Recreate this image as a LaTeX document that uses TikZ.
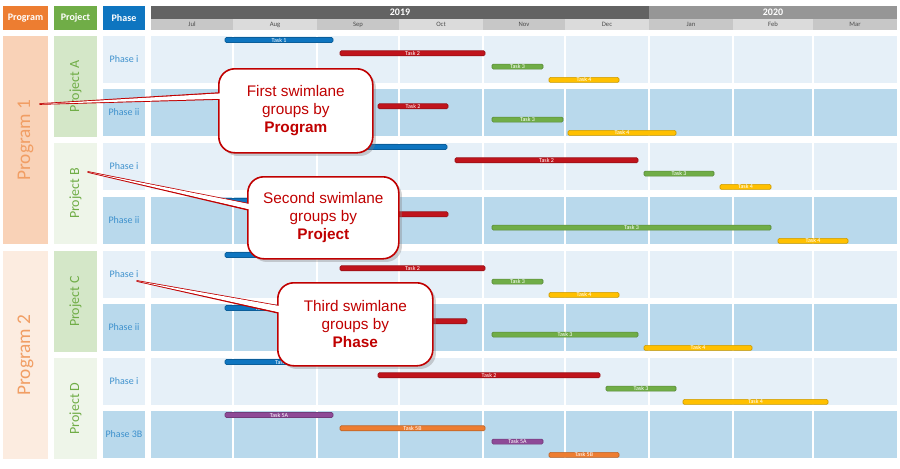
\documentclass[tikz,border=0pt]{standalone}
\usepackage{fontspec}
\setmainfont{Carlito}
\newfontfamily\arialf{Liberation Sans}
\usetikzlibrary{shadows}
\definecolor{cOr}{HTML}{ED7D31}
\definecolor{cGr}{HTML}{70AD47}
\definecolor{cBl}{HTML}{0E75C0}
\definecolor{cRd}{HTML}{C0141C}
\definecolor{cYe}{HTML}{FFC000}
\definecolor{cPu}{HTML}{8E4A97}
\definecolor{cLite}{HTML}{E6F0F8}
\definecolor{cDark}{HTML}{B9D9EC}
\definecolor{cCall}{HTML}{C00000}
\tikzset{
 hdr/.style={font=\bfseries\fontsize{7.5}{8}\selectfont, text=white},
 tbar/.style={rounded corners=1pt, draw=#1!80!black, fill=#1, line width=0.5pt},
 tlab/.style={font=\fontsize{4.5}{5}\selectfont, text=white},
 mon/.style={font=\fontsize{5}{6}\selectfont, text=black!70},
 callout/.style={draw=cCall, line width=1.2pt, fill=white, rounded corners=12pt, align=center,
   font=\arialf\fontsize{11.5}{13.5}\selectfont, text=cCall, drop shadow={opacity=0.35}},
}
\newcommand\tsk[6]{% x1 x2 row-top slot color label
  \draw[tbar=#5] (#1,#3+1.5+13.3*#4) rectangle (#2,#3+6.5+13.3*#4);
  \node[tlab] at ({(#1+#2)/2},#3+4+13.3*#4) {#6};}
\begin{document}
\begin{tikzpicture}[x=0.75pt,y=-0.75pt]
\useasboundingbox (0,0) rectangle (900,468);
% header
\fill[cOr] (3,6) rectangle (48,30); \node[hdr] (hprog) at (25.5,18) {Program};
\fill[cGr] (54,6) rectangle (97,30); \node[hdr] (hproj) at (75.5,18) {Project};
\fill[cBl] (103,6) rectangle (145,30); \node[hdr] (hphase) at (124,18) {Phase};
\fill[black!61] (151,6) rectangle (649,19); \node[hdr] (y19) at (400,12.5) {2019};
\fill[black!41] (649,6) rectangle (897,19); \node[hdr] (y20) at (773,12.5) {2020};
\foreach \a/\b/\m [count=\i] in {151/233/Jul,233/317/Aug,317/399/Sep,399/483/Oct,483/565/Nov,565/649/Dec,649/733/Jan,733/813/Feb,813/897/Mar}{
  \pgfmathsetmacro\sh{mod(\i,2)==1 ? 22 : 14}
  \fill[black!\sh] (\a,19) rectangle (\b,30);
  \node[mon] at ({(\a+\b)/2},24.5) {\m};}
% program / project columns
\fill[cOr!35] (3,36) rectangle (48,244);
\fill[cOr!15] (3,251) rectangle (48,459);
\node[rotate=90,text=cOr!75,font=\fontsize{14.5}{15}\selectfont] (p1) at (25.5,140) {Program 1};
\node[rotate=90,text=cOr!75,font=\fontsize{14.5}{15}\selectfont] (p2) at (25.5,355) {Program 2};
\foreach \t/\b/\lab/\sh in {36/137/A/30,143/244/B/12,251/352/C/30,358/459/D/12}{
  \fill[cGr!\sh] (54,\t) rectangle (97,\b);
  \node[rotate=90,text=cGr,font=\fontsize{10.5}{11}\selectfont] at (75.5,{(\t+\b)/2}) {Project \lab};}
% rows
\foreach \t/\lab [count=\i] in {36/Phase i,89/Phase ii,143/Phase i,197/Phase ii,251/Phase i,304/Phase ii,358/Phase i,411/Phase 3B}{
  \pgfmathsetmacro\isd{mod(\i,2)==0 ? 1 : 0}
  \ifdim\isd pt>0.5pt \def\rc{cDark}\else\def\rc{cLite}\fi
  \fill[\rc] (103,\t) rectangle (145,\t+47);
  \fill[\rc] (151,\t) rectangle (897,\t+47);
  \node[text=cBl!80,font=\fontsize{7.5}{8}\selectfont] at (124,\t+23.5) {\lab};
  \foreach \x in {233,317,399,483,565,649,733,813}{\draw[white,line width=1pt] (\x,\t) -- (\x,\t+47);}}
% tasks
\tsk{225}{333}{36}{0}{cBl}{Task 1}
\tsk{340}{485}{36}{1}{cRd}{Task 2}
\tsk{492}{543}{36}{2}{cGr}{Task 3}
\tsk{549}{619}{36}{3}{cYe}{Task 4}
\tsk{225}{333}{89}{0}{cBl}{}
\tsk{378}{448}{89}{1}{cRd}{Task 2}
\tsk{492}{563}{89}{2}{cGr}{Task 3}
\tsk{568}{676}{89}{3}{cYe}{Task 4}
\tsk{225}{447}{143}{0}{cBl}{}
\tsk{455}{638}{143}{1}{cRd}{Task 2}
\tsk{644}{714}{143}{2}{cGr}{Task 3}
\tsk{720}{771}{143}{3}{cYe}{Task 4}
\tsk{225}{333}{197}{0}{cBl}{}
\tsk{340}{448}{197}{1}{cRd}{}
\tsk{492}{771}{197}{2}{cGr}{Task 3}
\tsk{778}{848}{197}{3}{cYe}{Task 4}
\tsk{225}{333}{251}{0}{cBl}{}
\tsk{340}{485}{251}{1}{cRd}{Task 2}
\tsk{492}{543}{251}{2}{cGr}{Task 3}
\tsk{549}{619}{251}{3}{cYe}{Task 4}
\tsk{225}{300}{304}{0}{cBl}{Task 1}
\tsk{340}{467}{304}{1}{cRd}{}
\tsk{492}{638}{304}{2}{cGr}{Task 3}
\tsk{644}{752}{304}{3}{cYe}{Task 4}
\tsk{225}{340}{358}{0}{cBl}{Task 1}
\tsk{378}{600}{358}{1}{cRd}{Task 2}
\tsk{606}{676}{358}{2}{cGr}{Task 3}
\tsk{683}{828}{358}{3}{cYe}{Task 4}
\tsk{225}{333}{411}{0}{cPu}{Task 5A}
\tsk{340}{485}{411}{1}{cOr}{Task 5B}
\tsk{492}{543}{411}{2}{cPu}{Task 5A}
\tsk{549}{619}{411}{3}{cOr}{Task 5B}
% callouts
\coordinate (t1) at (40,104);
\coordinate (t2) at (88,172);
\coordinate (t3) at (137,281);
\foreach \n/\x/\y/\w/\h/\tp/\ya/\yb/\txt in {
 c1/218/68/154/84/t1/93/99/{First swimlane\\groups by\\\textbf{Program}},
 c2/247/176/151/82/t2/204/210/{Second swimlane\\groups by\\\textbf{Project}},
 c3/277/282/155/83/t3/306/313/{Third swimlane\\groups by\\\textbf{Phase}}}{
  \draw[cCall,fill=white,line width=1.2pt,line join=round] (\tp) -- (\x+2,\ya) -- (\x+2,\yb) -- cycle;
  \node[callout,minimum width=\w*0.75pt,minimum height=\h*0.75pt,anchor=north west] (\n) at (\x,\y) {\txt};
  \fill[white] (\tp) -- (\x+4,\ya+0.3) -- (\x+4,\yb-0.3) -- cycle;
}
\end{tikzpicture}
\end{document}
